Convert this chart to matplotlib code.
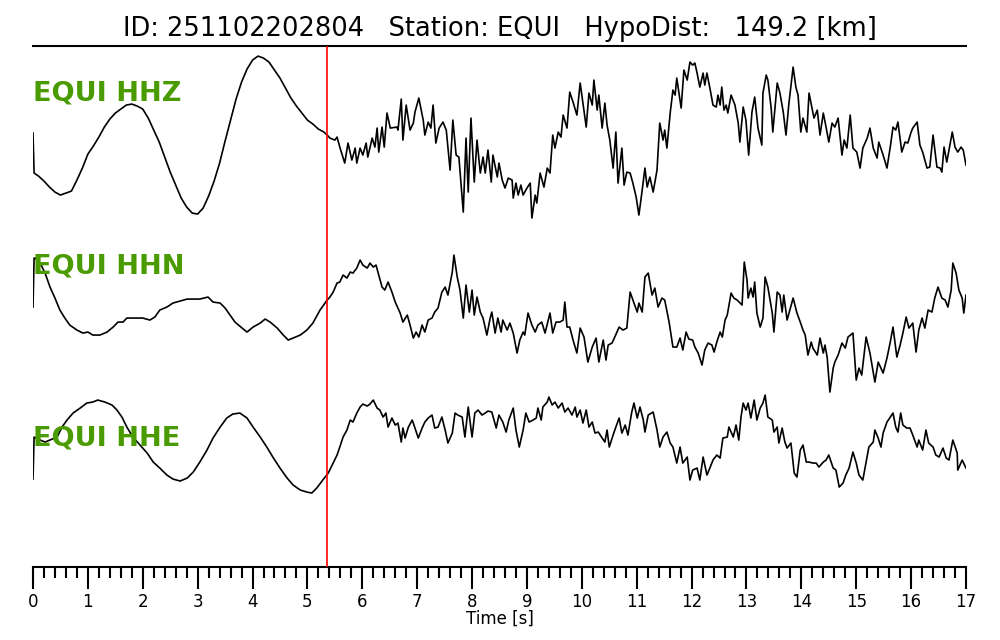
import numpy as np
from matplotlib import pyplot as plt

# seismogram traces: (time [s], amplitude [counts])
z_trace = [(0.0, 2), (0.02, -38), (0.1, -41), (0.2, -46), (0.3, -52), (0.4, -57), (0.5, -60), (0.6, -58),
           (0.7, -56), (0.8, -45), (0.9, -33), (1.0, -19), (1.1, -11), (1.2, -2), (1.3, 8), (1.4, 16),
           (1.5, 22), (1.6, 26), (1.7, 30), (1.8, 31), (1.9, 29), (2.0, 26), (2.1, 17), (2.2, 5),
           (2.3, -7), (2.4, -22), (2.5, -37), (2.6, -50), (2.7, -63), (2.8, -72), (2.9, -78), (3.0, -79),
           (3.1, -73), (3.2, -61), (3.3, -46), (3.4, -28), (3.5, -6), (3.6, 15), (3.7, 36), (3.8, 53),
           (3.9, 66), (4.0, 75), (4.1, 79), (4.2, 77), (4.3, 73), (4.4, 65), (4.5, 57), (4.6, 47),
           (4.7, 37), (4.8, 29), (4.9, 22), (5.0, 15), (5.1, 11), (5.2, 6), (5.3, 3), (5.36, 0),
           (5.41, -3), (5.50, -5), (5.54, -2), (5.59, -12), (5.68, -28), (5.74, -8), (5.81, -25), (5.87, -13),
           (5.90, -28), (5.96, -13), (6.01, -20), (6.07, -8), (6.10, -22), (6.18, -3), (6.23, -12), (6.27, 7),
           (6.30, -17), (6.36, 8), (6.40, -12), (6.45, 22), (6.51, 7), (6.63, 8), (6.65, 5), (6.71, 36),
           (6.74, -5), (6.80, 30), (6.87, 5), (6.93, 12), (6.96, 23), (7.03, 37), (7.11, 15), (7.14, 0),
           (7.20, 13), (7.25, 7), (7.29, 30), (7.34, -8), (7.40, 7), (7.47, 13), (7.53, 5), (7.60, -35),
           (7.65, 15), (7.71, -20), (7.76, -22), (7.84, -77), (7.89, -3), (7.93, -57), (7.98, 17), (8.04, -47),
           (8.09, -5), (8.15, -38), (8.20, -22), (8.24, -38), (8.29, -15), (8.35, -47), (8.38, -20), (8.46, -42),
           (8.49, -28), (8.55, -45), (8.60, -53), (8.66, -43), (8.73, -45), (8.75, -63), (8.80, -48), (8.84, -60),
           (8.89, -50), (8.93, -60), (9.00, -53), (9.06, -48), (9.09, -83), (9.15, -60), (9.18, -68), (9.24, -38),
           (9.31, -52), (9.37, -33), (9.42, -38), (9.47, 0), (9.51, -13), (9.57, 3), (9.62, -2), (9.66, 20),
           (9.73, 7), (9.78, 43), (9.84, 33), (9.91, 20), (9.97, 52), (10.02, 32), (10.08, 8), (10.13, 42),
           (10.19, 30), (10.22, 55), (10.28, 25), (10.31, 40), (10.37, 7), (10.42, 32), (10.46, 10), (10.51, -5),
           (10.57, -33), (10.62, 3), (10.66, -48), (10.73, -13), (10.77, -50), (10.82, -37), (10.88, -38), (10.93, -48),
           (10.99, -62), (11.04, -80), (11.10, -55), (11.15, -33), (11.19, -52), (11.24, -42), (11.30, -57), (11.37, -35),
           (11.42, 12), (11.48, -5), (11.51, 5), (11.55, -13), (11.61, 22), (11.66, 45), (11.70, 40), (11.73, 57),
           (11.81, 27), (11.86, 65), (11.92, 55), (11.97, 73), (12.02, 70), (12.06, 72), (12.10, 62), (12.15, 48),
           (12.21, 62), (12.24, 50), (12.28, 62), (12.34, 45), (12.39, 30), (12.45, 28), (12.48, 40), (12.52, 30),
           (12.55, 48), (12.59, 25), (12.63, 30), (12.66, 22), (12.72, 40), (12.79, 30), (12.85, 12), (12.88, -7),
           (12.94, 28), (12.99, 15), (13.04, -20), (13.10, 23), (13.15, 38), (13.21, 7), (13.28, -10), (13.30, 42),
           (13.36, 60), (13.39, 55), (13.45, 27), (13.48, 3), (13.56, 52), (13.61, 42), (13.67, 23), (13.72, 0),
           (13.77, 30), (13.85, 68), (13.90, 48), (13.94, 40), (13.99, 3), (14.03, 17), (14.10, 3), (14.14, 42),
           (14.20, 25), (14.23, 17), (14.29, 25), (14.34, 0), (14.40, 22), (14.45, 8), (14.50, -7), (14.56, 12),
           (14.61, 8), (14.67, 17), (14.74, -20), (14.78, -5), (14.83, -13), (14.89, 20), (14.94, -13), (15.01, -17),
           (15.07, -33), (15.12, -13), (15.20, -3), (15.25, 7), (15.31, -13), (15.38, -23), (15.41, -7), (15.49, -20),
           (15.56, -33), (15.62, -12), (15.67, 8), (15.72, 5), (15.76, 13), (15.83, -17), (15.89, -7), (15.94, -8),
           (16.00, 3), (16.03, 7), (16.11, 13), (16.16, -10), (16.21, -17), (16.29, -33), (16.34, -32), (16.40, 0),
           (16.47, -32), (16.53, -33), (16.56, -37), (16.60, -12), (16.65, -27), (16.75, 3), (16.80, -12), (16.85, -17),
           (16.91, -12), (16.95, -15), (17.00, -30)]

n_trace = [(0.0, 15), (0.02, 64), (0.04, 64), (0.13, 59), (0.22, 49), (0.31, 35), (0.40, 24), (0.49, 12),
           (0.58, 4), (0.67, -3), (0.80, -8), (0.91, -11), (1.00, -10), (1.09, -13), (1.22, -13), (1.35, -10),
           (1.46, -5), (1.55, 0), (1.64, 0), (1.71, 4), (1.86, 4), (2.00, 4), (2.13, 2), (2.22, 5),
           (2.31, 12), (2.44, 15), (2.55, 19), (2.68, 21), (2.81, 23), (2.92, 23), (3.04, 23), (3.19, 25),
           (3.28, 20), (3.41, 19), (3.50, 14), (3.59, 7), (3.68, 0), (3.81, -6), (3.90, -10), (4.01, -5),
           (4.14, -1), (4.23, 3), (4.32, 0), (4.45, -6), (4.56, -13), (4.65, -18), (4.74, -16), (4.87, -13),
           (4.99, -8), (5.10, -1), (5.23, 12), (5.36, 22), (5.41, 25), (5.47, 30), (5.54, 39), (5.59, 40),
           (5.65, 47), (5.72, 44), (5.78, 50), (5.83, 49), (5.90, 54), (5.96, 62), (6.01, 57), (6.09, 54),
           (6.14, 59), (6.20, 55), (6.25, 57), (6.30, 47), (6.36, 35), (6.41, 32), (6.47, 40), (6.54, 30),
           (6.60, 20), (6.69, 9), (6.74, 0), (6.82, 7), (6.87, -3), (6.93, -16), (6.98, -10), (7.03, -15),
           (7.09, -3), (7.14, -10), (7.20, 2), (7.27, 4), (7.32, 10), (7.38, 14), (7.45, 30), (7.51, 35),
           (7.56, 27), (7.64, 50), (7.67, 67), (7.73, 45), (7.78, 32), (7.84, 4), (7.89, 37), (7.95, 10),
           (8.00, 32), (8.04, 7), (8.09, 25), (8.15, 10), (8.20, 4), (8.27, -13), (8.33, 4), (8.36, 10),
           (8.42, -11), (8.47, 4), (8.53, -10), (8.56, 2), (8.64, -8), (8.69, -1), (8.75, -11), (8.82, -31),
           (8.87, -18), (8.93, -10), (8.96, -13), (9.02, 9), (9.09, -3), (9.15, -10), (9.20, -3), (9.27, 0),
           (9.33, -11), (9.42, 9), (9.47, -11), (9.53, 0), (9.60, 0), (9.66, 2), (9.69, 20), (9.73, -5),
           (9.78, -5), (9.84, -18), (9.91, -31), (9.97, -6), (10.04, -15), (10.11, -40), (10.19, -25), (10.26, -16),
           (10.31, -40), (10.39, -18), (10.44, -38), (10.48, -23), (10.55, -21), (10.60, -15), (10.68, -5), (10.75, -8),
           (10.82, -6), (10.88, 30), (10.95, 19), (11.01, 10), (11.04, 19), (11.10, 10), (11.15, 45), (11.21, 49),
           (11.28, 27), (11.33, 34), (11.39, 15), (11.46, 24), (11.51, 22), (11.59, 0), (11.66, -25), (11.73, -25),
           (11.79, -16), (11.84, -28), (11.90, -10), (11.95, -17), (12.02, -18), (12.06, -25), (12.12, -31), (12.19, -43),
           (12.24, -28), (12.30, -21), (12.37, -23), (12.41, -30), (12.46, -20), (12.52, -10), (12.56, -15), (12.61, 2),
           (12.65, 7), (12.72, 29), (12.77, 24), (12.83, 22), (12.92, 17), (12.96, 60), (13.01, 42), (13.03, 24),
           (13.08, 34), (13.12, 25), (13.15, 40), (13.19, 9), (13.25, -5), (13.30, 4), (13.34, 45), (13.39, 35),
           (13.47, 9), (13.50, -10), (13.56, 30), (13.61, 27), (13.65, 10), (13.68, 27), (13.74, 2), (13.79, 12),
           (13.85, 24), (13.92, 9), (13.98, 0), (14.03, -8), (14.07, -13), (14.12, -33), (14.18, -20), (14.21, -26),
           (14.29, -33), (14.34, -16), (14.40, -31), (14.43, -23), (14.47, -35), (14.52, -70), (14.58, -46), (14.61, -40),
           (14.67, -33), (14.74, -21), (14.80, -26), (14.85, -15), (14.94, -11), (15.00, -58), (15.05, -46), (15.10, -53),
           (15.18, -15), (15.25, -31), (15.34, -60), (15.40, -40), (15.49, -51), (15.56, -36), (15.62, -20), (15.67, -5),
           (15.74, -35), (15.80, -23), (15.85, -11), (15.91, 5), (15.96, -6), (16.03, -1), (16.09, -30), (16.14, -8),
           (16.20, 4), (16.25, -6), (16.31, 12), (16.38, 10), (16.43, 24), (16.49, 35), (16.56, 24), (16.62, 22),
           (16.67, 15), (16.73, 32), (16.76, 59), (16.82, 49), (16.87, 32), (16.93, 24), (16.96, 9), (17.00, 27)]

e_trace = [(0.0, -34), (0.02, 8), (0.13, 5), (0.22, 3), (0.31, 5), (0.44, 8), (0.53, 18), (0.62, 25),
           (0.73, 32), (0.86, 37), (0.98, 42), (1.09, 43), (1.18, 45), (1.31, 43), (1.44, 40), (1.53, 35),
           (1.62, 28), (1.71, 18), (1.82, 8), (1.95, 0), (2.08, -8), (2.19, -17), (2.31, -23), (2.44, -30),
           (2.55, -34), (2.68, -36), (2.81, -33), (2.92, -27), (3.04, -17), (3.17, -5), (3.28, 7), (3.41, 18),
           (3.53, 27), (3.64, 31), (3.77, 32), (3.90, 27), (4.01, 18), (4.14, 8), (4.26, -2), (4.37, -12),
           (4.50, -23), (4.63, -33), (4.74, -40), (4.87, -45), (4.99, -47), (5.08, -48), (5.17, -43), (5.28, -35),
           (5.38, -28), (5.47, -18), (5.54, -10), (5.59, -2), (5.65, 8), (5.72, 15), (5.78, 25), (5.83, 23),
           (5.90, 32), (5.96, 38), (6.01, 41), (6.09, 39), (6.14, 41), (6.20, 45), (6.27, 37), (6.32, 35),
           (6.38, 28), (6.43, 32), (6.47, 18), (6.54, 27), (6.60, 20), (6.65, 22), (6.71, 3), (6.74, 17),
           (6.78, 7), (6.84, 18), (6.91, 25), (6.96, 17), (7.02, 7), (7.09, 17), (7.14, 23), (7.20, 27),
           (7.27, 30), (7.32, 17), (7.38, 18), (7.45, 28), (7.51, 15), (7.56, 2), (7.64, 12), (7.69, 32),
           (7.74, 30), (7.82, 28), (7.87, 8), (7.93, 38), (8.00, 8), (8.05, 32), (8.11, 35), (8.18, 30),
           (8.24, 32), (8.29, 34), (8.36, 33), (8.44, 17), (8.49, 30), (8.56, 23), (8.62, 13), (8.67, 25),
           (8.75, 37), (8.80, 15), (8.86, -2), (8.93, 15), (8.98, 32), (9.04, 23), (9.11, 25), (9.17, 27),
           (9.20, 37), (9.26, 25), (9.29, 38), (9.37, 43), (9.40, 48), (9.46, 40), (9.51, 43), (9.57, 37),
           (9.64, 42), (9.69, 33), (9.75, 37), (9.82, 30), (9.88, 38), (9.91, 28), (9.97, 35), (10.02, 22),
           (10.08, 35), (10.13, 18), (10.19, 23), (10.24, 12), (10.30, 13), (10.37, 7), (10.42, 3), (10.46, 15),
           (10.50, -2), (10.57, 10), (10.62, 18), (10.68, 27), (10.73, 12), (10.79, 20), (10.84, 10), (10.91, 33),
           (10.95, 42), (11.01, 27), (11.06, 38), (11.12, 25), (11.15, 13), (11.21, 30), (11.30, 33), (11.37, 15),
           (11.42, -2), (11.48, 8), (11.55, 13), (11.61, 2), (11.66, -2), (11.73, -18), (11.79, -2), (11.84, -18),
           (11.92, -12), (11.97, -35), (12.02, -25), (12.10, -23), (12.15, -35), (12.21, -12), (12.28, -30), (12.34, -22),
           (12.39, -15), (12.46, -10), (12.52, -13), (12.57, 7), (12.65, 8), (12.68, 18), (12.76, 8), (12.81, 20),
           (12.86, 5), (12.90, 28), (12.94, 42), (12.99, 35), (13.03, 42), (13.08, 27), (13.14, 45), (13.19, 25),
           (13.25, 37), (13.30, 42), (13.34, 50), (13.39, 28), (13.47, 25), (13.50, 13), (13.56, 18), (13.59, 2),
           (13.65, 17), (13.70, 3), (13.74, -3), (13.81, 2), (13.87, -28), (13.92, -32), (13.98, -5), (14.03, 0),
           (14.09, -17), (14.14, -17), (14.21, -18), (14.27, -18), (14.32, -22), (14.40, -17), (14.45, -15), (14.50, -10),
           (14.58, -23), (14.63, -25), (14.69, -42), (14.76, -38), (14.81, -30), (14.87, -23), (14.94, -7), (15.00, -18),
           (15.05, -30), (15.12, -35), (15.18, -17), (15.23, -2), (15.31, 3), (15.34, 15), (15.40, 7), (15.45, -2),
           (15.49, 12), (15.56, 23), (15.62, 28), (15.67, 32), (15.72, 18), (15.76, 13), (15.81, 32), (15.85, 20),
           (15.92, 17), (15.98, 17), (16.03, 10), (16.11, -2), (16.14, 5), (16.21, -5), (16.27, 15), (16.32, 2),
           (16.40, -2), (16.45, -10), (16.51, -12), (16.58, -3), (16.64, -13), (16.69, -15), (16.76, 5), (16.84, -8),
           (16.85, -25), (16.93, -15), (17.00, -23)]

channels = ["EQUI HHZ", "EQUI HHN", "EQUI HHE"]
pick_time = 5.35  # red marker
title = "ID: 251102202804   Station: EQUI   HypoDist:   149.2 [km]"


def plotTraces():
    fig = plt.figure(figsize=(10, 6.4), dpi=100)
    ax = fig.add_axes([0.033, 0.114, 0.933, 0.814])

    offsets = [0, -187, -310]      # baseline of every trace
    label_shift = [42, 56, 7]      # where the green channel names sit
    for trace, off, name, sh in zip([z_trace, n_trace, e_trace], offsets, channels, label_shift):
        data = np.array(trace, dtype=float)
        ax.plot(data[:, 0], data[:, 1] + off, color='k', lw=1.2)
        ax.text(0.0, off + sh, name, color='#4a9b00', fontsize=19.5, fontweight='bold',
                ha='left', va='center')

    ax.axvline(pick_time, color='red', lw=1.2, zorder=3)

    ax.set_xlim(0, 17)
    ax.set_ylim(-432, 89)
    ax.set_yticks([])
    ax.set_xticks(np.arange(0, 18, 1))
    ax.set_xticks(np.arange(0, 17.01, 0.2), minor=True)
    ax.tick_params(axis='x', which='major', length=16, width=1.5, labelsize=12, pad=3)
    ax.tick_params(axis='x', which='minor', length=8, width=1.5)
    ax.spines['left'].set_visible(False)
    ax.spines['right'].set_visible(False)
    ax.spines['top'].set_linewidth(1.5)
    ax.spines['bottom'].set_linewidth(1.5)

    ax.set_xlabel('Time [s]', fontsize=12, labelpad=-1)
    ax.set_title(title, fontsize=18.5, pad=7)

    plt.savefig('out.png', dpi=100)


if __name__ == '__main__':
    plotTraces()
